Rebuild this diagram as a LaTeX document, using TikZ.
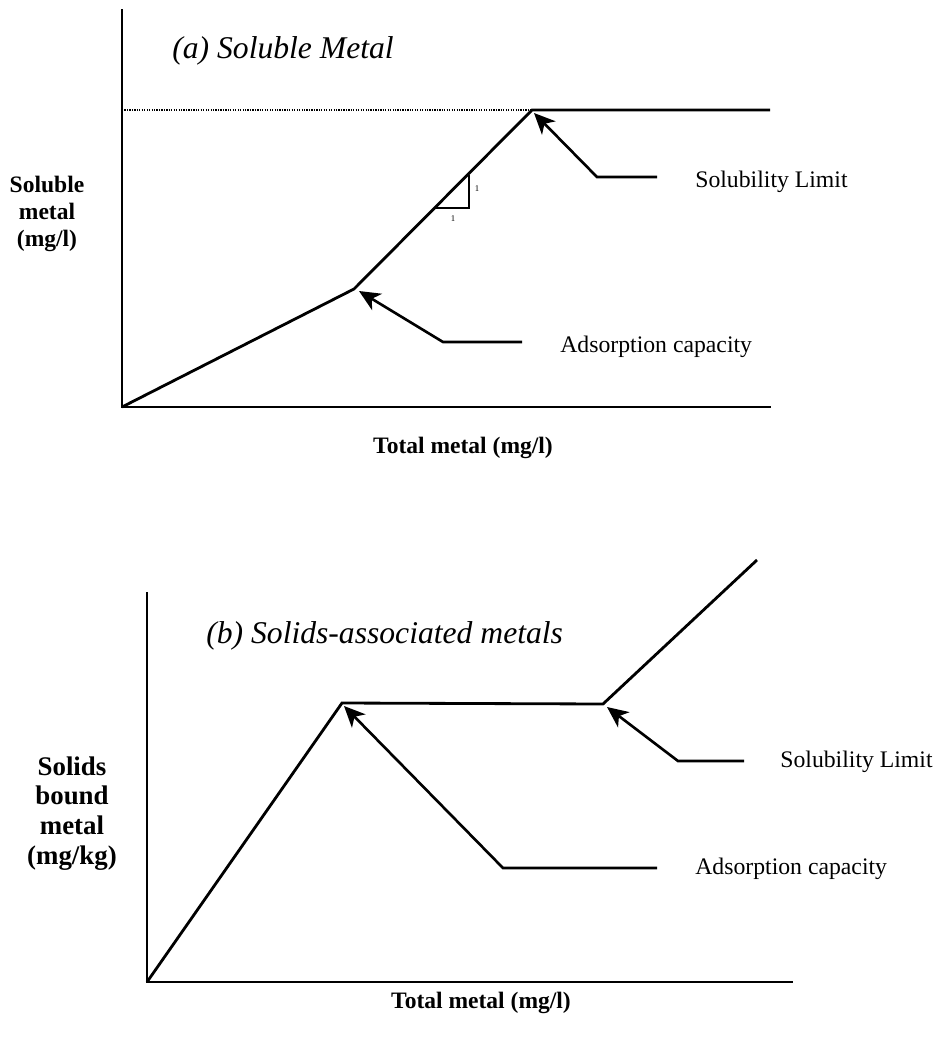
\documentclass[tikz,border=0pt]{standalone}
\usepackage{fontspec}
\setmainfont{Liberation Serif}
\usetikzlibrary{arrows.meta}
\begin{document}
\begin{tikzpicture}[x=0.02cm, y=-0.02cm,
  axisline/.style={line width=1.2pt, line cap=rect},
  curveline/.style={line width=1.6pt, line join=miter},
  dotline/.style={line width=0.6pt, dash pattern=on 0.7pt off 0.7pt},
  triline/.style={line width=1.3pt, line join=miter},
  leader/.style={line width=1.5pt, line join=miter,
    -{Stealth[length=0.42cm, width=0.38cm, inset=0.12cm]}},
  callout/.style={inner sep=0pt, font=\fontsize{13.5}{16}\selectfont},
  unitmark/.style={inner sep=0pt, font=\fontsize{5}{6}\selectfont},
  plottitle/.style={inner sep=0pt, font=\fontsize{18}{21}\selectfont\itshape},
  xlabel/.style={inner sep=0pt, font=\fontsize{13.4}{16}\selectfont\bfseries},
  ylabelA/.style={inner sep=0pt, align=center, font=\fontsize{13.4}{15.3}\selectfont\bfseries},
  ylabelB/.style={inner sep=0pt, align=center, font=\fontsize{15.3}{17}\selectfont\bfseries}]
\useasboundingbox (0,0) rectangle (940,1038);

% ---------- (a) soluble metal ----------
\coordinate (aTop)   at (122,10);
\coordinate (aO)     at (122,407);
\coordinate (aRight) at (770,407);
\coordinate (aK1)    at (354,289);
\coordinate (aK2)    at (532,110);
\coordinate (aEnd)   at (770,110);
\draw[axisline] (aTop) -- (aO) -- (aRight);
\draw[dotline] (aTop |- aK2) -- (aK2);
\draw[curveline] (aO) -- (aK1) -- (aK2) -- (aEnd);

% unit slope triangle
\coordinate (triA) at (436,208);
\coordinate (triB) at (469,208);
\coordinate (triC) at (469,175);
\draw[triline] (triA) -- (triB) -- (triC);
\node[unitmark] (triV) at (477,189) {1};
\node[unitmark] (triH) at (453,219) {1};

% callouts
\coordinate (aAdsTip)  at (359,291);
\coordinate (aAdsKink) at (443,342);
\coordinate (aAdsEnd)  at (522,342);
\draw[leader] (aAdsEnd) -- (aAdsKink) -- (aAdsTip);
\node[callout, anchor=base west] (aAdsText) at (560,352) {Adsorption capacity};

\coordinate (aSolTip)  at (534,113);
\coordinate (aSolKink) at (597,177);
\coordinate (aSolEnd)  at (657,177);
\draw[leader] (aSolEnd) -- (aSolKink) -- (aSolTip);
\node[callout, anchor=base west] (aSolText) at (695,187) {Solubility Limit};

\node[plottitle, anchor=base west] (aTitle) at (172,58) {(a) Soluble Metal};
\node[xlabel, anchor=base] (aX) at (463,453) {Total metal (mg/l)};
\node[ylabelA, anchor=north] (aY) at (47,176) {Soluble\\metal\\(mg/l)};

% ---------- (b) solids-associated metals ----------
\coordinate (bTop)   at (147,593);
\coordinate (bO)     at (147,982);
\coordinate (bRight) at (792,982);
\coordinate (bK1)    at (342,703);
\coordinate (bK2)    at (603,704);
\coordinate (bEnd)   at (757,560);
\draw[axisline] (bTop) -- (bO) -- (bRight);
\draw[curveline] (bO) -- (bK1) -- (bK2) -- (bEnd);

\coordinate (bAdsTip)  at (344,706);
\coordinate (bAdsKink) at (503,868);
\coordinate (bAdsEnd)  at (657,868);
\draw[leader] (bAdsEnd) -- (bAdsKink) -- (bAdsTip);
\node[callout, anchor=base west] (bAdsText) at (695,874) {Adsorption capacity};

\coordinate (bSolTip)  at (607,707);
\coordinate (bSolKink) at (678,761);
\coordinate (bSolEnd)  at (744,761);
\draw[leader] (bSolEnd) -- (bSolKink) -- (bSolTip);
\node[callout, anchor=base west] (bSolText) at (780,767) {Solubility Limit};

\node[plottitle, anchor=base west] (bTitle) at (206,643) {(b) Solids-associated metals};
\node[xlabel, anchor=base] (bX) at (481,1008) {Total metal (mg/l)};
\node[ylabelB, anchor=north] (bY) at (72,756) {Solids\\bound\\metal\\(mg/kg)};
\end{tikzpicture}
\end{document}
